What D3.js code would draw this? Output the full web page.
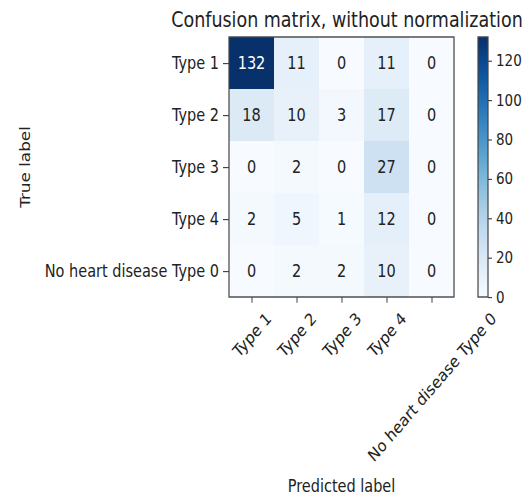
<!DOCTYPE html>
<html>
<head>
<meta charset="utf-8">
<script src="https://cdn.jsdelivr.net/npm/d3@7"></script>
<style>
  html, body { margin: 0; padding: 0; background: #fff; }
  svg text { font-family: "DejaVu Sans", sans-serif; fill: #222; }
</style>
</head>
<body>
<svg id="chart" width="532" height="498"></svg>
<script>
const trueLabels = ["Type 1", "Type 2", "Type 3", "Type 4", "No heart disease Type 0"];
const predLabels = ["Type 1", "Type 2", "Type 3", "Type 4", "No heart disease Type 0"];
const row1 = [132, 11, 0, 11, 0];
const row2 = [18, 10, 3, 17, 0];
const row3 = [0, 2, 0, 27, 0];
const row4 = [2, 5, 1, 12, 0];
const row5 = [0, 2, 2, 10, 0];
const matrix = [row1, row2, row3, row4, row5];
const colorbarTicks = [0, 20, 40, 60, 80, 100, 120];
const chartTitle = "Confusion matrix, without normalization";
const xTitle = "Predicted label";
const yTitle = "True label";

const K = 1.16; // vertical stretch of the original picture
const svg = d3.select("#chart");
const root = svg.append("g").attr("transform", `scale(1,${K})`);

const mLeft = 229, mRight = 454, mTop = 37 / K, mBottom = 297 / K;
const x = d3.scaleBand().domain(d3.range(predLabels.length)).range([mLeft, mRight]);
const y = d3.scaleBand().domain(d3.range(trueLabels.length)).range([mTop, mBottom]);
const maxV = d3.max(matrix.flat());
const color = d3.scaleSequential(d3.interpolateBlues).domain([0, maxV]);

const cells = [];
matrix.forEach((r, i) => r.forEach((v, j) => cells.push({i, j, v})));

root.append("g").selectAll("rect").data(cells).join("rect")
  .attr("x", d => x(d.j)).attr("y", d => y(d.i))
  .attr("width", x.bandwidth() + 0.5).attr("height", y.bandwidth() + 0.5)
  .attr("fill", d => color(d.v));

root.append("g").selectAll("text").data(cells).join("text")
  .attr("x", d => x(d.j) + x.bandwidth() / 2)
  .attr("y", d => y(d.i) + y.bandwidth() / 2)
  .attr("text-anchor", "middle").attr("dy", "0.36em")
  .style("font-size", "14.5px")
  .style("fill", d => d.v > maxV / 2 ? "#fff" : "#222")
  .text(d => d.v);

// frame
root.append("rect").attr("x", mLeft).attr("y", mTop)
  .attr("width", mRight - mLeft).attr("height", mBottom - mTop)
  .attr("fill", "none").attr("stroke", "#444").attr("stroke-width", 1.2);

// y axis
const yAxis = root.append("g").attr("transform", `translate(${mLeft},0)`)
  .call(d3.axisLeft(d3.scalePoint().domain(trueLabels).range([mTop + y.bandwidth()/2, mBottom - y.bandwidth()/2])).tickSize(6).tickPadding(4));
yAxis.select(".domain").remove();
yAxis.selectAll("line").attr("stroke", "#444");
yAxis.selectAll("text").style("font-size", "14.5px").style("fill", "#222");

// x axis
const xPos = d3.scalePoint().domain(d3.range(predLabels.length)).range([mLeft + x.bandwidth()/2, mRight - x.bandwidth()/2]);
const xAxis = root.append("g").attr("transform", `translate(0,${mBottom})`)
  .call(d3.axisBottom(xPos).tickSize(5).tickFormat(i => predLabels[i]));
xAxis.select(".domain").remove();
xAxis.selectAll("line").attr("stroke", "#444");
xAxis.selectAll("text")
  .style("font-size", "14.5px").style("fill", "#222")
  .attr("text-anchor", "middle").attr("dy", "0.35em")
  .each(function(i) {
    const L = this.getComputedTextLength();
    const h = 17;
    const half = (L + h) * Math.SQRT1_2 / 2;
    d3.select(this).attr("y", 0).attr("x", 0)
      .attr("transform", `translate(0,${10 + half}) rotate(-45)`);
  });

// colorbar
const cbX = 478, cbW = 10;
const cbScale = d3.scaleLinear().domain([0, maxV]).range([mBottom, mTop]);
const defs = svg.append("defs");
const grad = defs.append("linearGradient").attr("id", "cbgrad")
  .attr("x1", 0).attr("y1", 1).attr("x2", 0).attr("y2", 0);
d3.range(0, 1.0001, 0.05).forEach(t => grad.append("stop").attr("offset", t).attr("stop-color", color(t * maxV)));
root.append("rect").attr("x", cbX).attr("y", mTop).attr("width", cbW).attr("height", mBottom - mTop)
  .attr("fill", "url(#cbgrad)").attr("stroke", "#444").attr("stroke-width", 1.2);
const cbAxis = root.append("g").attr("transform", `translate(${cbX + cbW},0)`)
  .call(d3.axisRight(cbScale).tickValues(colorbarTicks).tickSize(4).tickPadding(4));
cbAxis.select(".domain").remove();
cbAxis.selectAll("line").attr("stroke", "#444");
cbAxis.selectAll("text").style("font-size", "13.5px").style("fill", "#222");

// title
root.append("text").attr("x", 347).attr("y", 27 / K)
  .attr("text-anchor", "middle").style("font-size", "17.5px").text(chartTitle);

// axis titles
root.append("text").attr("x", (mLeft + mRight) / 2).attr("y", 492 / K)
  .attr("text-anchor", "middle").style("font-size", "14.5px").text(xTitle);
root.append("text").attr("transform", `translate(30,${(mTop + mBottom) / 2}) rotate(-90)`)
  .attr("text-anchor", "middle").style("font-size", "14.5px").text(yTitle);
</script>
</body>
</html>
